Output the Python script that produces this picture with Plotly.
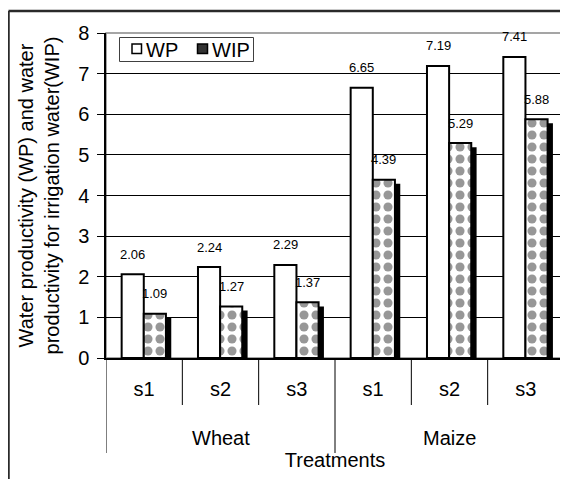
import plotly.graph_objects as go

crops = ["Wheat", "Wheat", "Wheat", "Maize", "Maize", "Maize"]
treatments = ["s1", "s2", "s3", "s1", "s2", "s3"]
wp = [2.06, 2.24, 2.29, 6.65, 7.19, 7.41]
wip = [1.09, 1.27, 1.37, 4.39, 5.29, 5.88]
y_ticks = [0, 1, 2, 3, 4, 5, 6, 7, 8]
series_names = ["WP", "WIP"]

FONT = "Arial, Liberation Sans, sans-serif"
OFF = 8  # page body margin
W, H = 560, 471
L, R, T, B = 98, 4, 25, 121
PW, PH = W - L - R, H - T - B


def px_x(px):
    return (px - OFF - L) / PW


def px_y(py):
    return (H - B - (py - OFF)) / PH


pos = list(range(len(treatments)))
BW = 0.29

fig = go.Figure()
fig.add_trace(go.Bar(
    x=pos, y=wp, name=series_names[0], offset=-0.295, width=BW,
    marker=dict(color="white", line=dict(color="black", width=2)),
    showlegend=False,
))
# drop shadow of WIP bars
fig.add_trace(go.Bar(
    x=pos, y=[v - 0.1 for v in wip], offset=0.065, width=BW,
    marker=dict(color="black", line=dict(width=0)),
    showlegend=False, hoverinfo="skip",
))
fig.add_trace(go.Bar(
    x=pos, y=wip, name=series_names[1], offset=-0.005, width=BW,
    marker=dict(color="white", line=dict(color="black", width=2),
                pattern=dict(shape=".", fgcolor="#303030", bgcolor="white",
                             size=12, solidity=0.45)),
    showlegend=False,
))

annotations = []
for i, v in zip(pos, wp):
    annotations.append(dict(x=i - 0.15, y=v, text=f"{v:.2f}", showarrow=False,
                            yshift=20, font=dict(size=13, color="black", family=FONT)))
for i, v in zip(pos, wip):
    annotations.append(dict(x=i + 0.14, y=v, text=f"{v:.2f}", showarrow=False,
                            yshift=20, font=dict(size=13, color="black", family=FONT)))
# group labels
groups = []
for i, c in enumerate(crops):
    if not groups or groups[-1][0] != c:
        groups.append([c, i, i])
    else:
        groups[-1][2] = i
for c, a, b in groups:
    annotations.append(dict(x=(a + b) / 2, y=px_y(438), yref="paper", text=c,
                            xanchor="center", yanchor="middle", showarrow=False,
                            font=dict(size=20, color="black", family=FONT)))

shapes = []
# outer frame (left and top edges visible)
shapes.append(dict(type="line", xref="paper", yref="paper",
                   x0=px_x(8.5), x1=px_x(568), y0=px_y(11), y1=px_y(11),
                   line=dict(color="#2a2a2a", width=2.5)))
shapes.append(dict(type="line", xref="paper", yref="paper",
                   x0=px_x(8.5), x1=px_x(8.5), y0=px_y(479), y1=px_y(11),
                   line=dict(color="#2a2a2a", width=2.5)))
# plot area border
shapes.append(dict(type="rect", xref="paper", yref="paper", x0=0, x1=1, y0=0, y1=1,
                   line=dict(color="#888888", width=1.5), layer="below"))
# dividers
for k in range(len(treatments) + 1):
    xk = k - 0.5
    is_group_edge = k == 0 or k == len(treatments) or crops[k] != crops[k - 1]
    y1 = px_y(453) if is_group_edge else px_y(405)
    shapes.append(dict(type="line", xref="x", yref="paper", x0=xk, x1=xk, y0=0, y1=y1,
                       line=dict(color="black", width=1)))

# legend (box, swatches, labels)
shapes.append(dict(type="rect", xref="paper", yref="paper",
                   x0=px_x(119.5), x1=px_x(253.5), y0=px_y(61.5), y1=px_y(37.5),
                   line=dict(color="#404040", width=1), fillcolor="white"))
shapes.append(dict(type="rect", xref="paper", yref="paper",
                   x0=px_x(132), x1=px_x(141.5), y0=px_y(53.5), y1=px_y(44),
                   line=dict(color="black", width=1.5), fillcolor="white"))
shapes.append(dict(type="rect", xref="paper", yref="paper",
                   x0=px_x(197.5), x1=px_x(207.5), y0=px_y(53.5), y1=px_y(44),
                   line=dict(color="black", width=1.5), fillcolor="#333333"))
annotations.append(dict(x=px_x(144), y=px_y(49.5), xref="paper", yref="paper",
                        text=series_names[0], showarrow=False, xanchor="left", yanchor="middle",
                        font=dict(size=20, color="black", family=FONT)))
annotations.append(dict(x=px_x(209.5), y=px_y(49.5), xref="paper", yref="paper",
                        text=series_names[1], showarrow=False, xanchor="left", yanchor="middle",
                        font=dict(size=20, color="black", family=FONT)))

fig.update_layout(
    width=W, height=H,
    margin=dict(l=L, r=R, t=T, b=B, autoexpand=False),
    paper_bgcolor="white", plot_bgcolor="white",
    barmode="overlay",
    showlegend=False,
    font=dict(family=FONT, size=20, color="black"),
    xaxis=dict(range=[-0.5, len(treatments) - 0.5], tickvals=pos, ticktext=treatments,
               showgrid=False, zeroline=False, showline=True, linecolor="black", linewidth=1.5,
               ticks="", ticklabelstandoff=12,
               title=dict(text="Treatments", standoff=54, font=dict(size=20))),
    yaxis=dict(range=[0, 8], tickvals=y_ticks, showgrid=True, gridcolor="black", gridwidth=1,
               zeroline=False, showline=True, linecolor="black", linewidth=1.5,
               ticks="outside", ticklen=7, tickcolor="black", ticklabelstandoff=4,
               title=dict(text="Water productivity (WP) and water<br>productivity for irrigation water(WIP)",
                          standoff=13, font=dict(size=20))),
    annotations=annotations,
    shapes=shapes,
)

fig.write_html("out.html")
